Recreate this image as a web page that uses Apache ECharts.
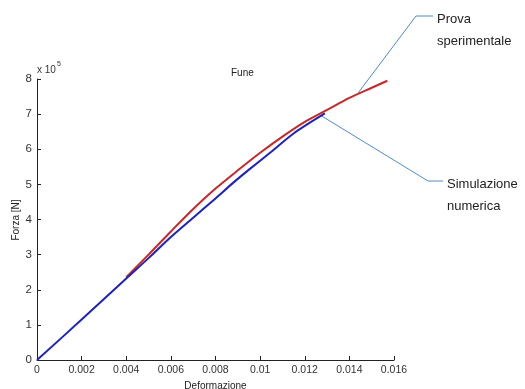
<!DOCTYPE html>
<html>
<head>
<meta charset="utf-8">
<script src="https://cdn.jsdelivr.net/npm/echarts@6/dist/echarts.min.js"></script>
<style>html,body{margin:0;padding:0;background:#fff}#c{width:525px;height:389px}</style>
</head>
<body>
<div id="c"></div>
<script>
// Forza values in units of 1e5 N
const provaStrain = [0.0040, 0.0050, 0.0060, 0.0070, 0.0080, 0.0090, 0.0100, 0.0110, 0.0120, 0.0130, 0.0140, 0.0150, 0.0157];
const provaForce  = [2.36, 3.00, 3.66, 4.30, 4.88, 5.40, 5.90, 6.36, 6.78, 7.12, 7.46, 7.75, 7.95];
const simStrain = [0, 0.002, 0.004, 0.005, 0.006, 0.007, 0.008, 0.0088, 0.0095, 0.0105, 0.0115, 0.0129];
const simForce  = [0, 1.15, 2.32, 2.90, 3.50, 4.05, 4.60, 5.05, 5.42, 5.93, 6.45, 7.02];
const xTicks = [0, 0.002, 0.004, 0.006, 0.008, 0.01, 0.012, 0.014, 0.016];
const yTicks = [0, 1, 2, 3, 4, 5, 6, 7, 8];
const yName = 'Forza [N]';
const labelProva = ['Prova', 'sperimentale'];
const labelSim = ['Simulazione', 'numerica'];
const provaAnchor = [0.0144, 7.61];
const simAnchor = [0.01275, 6.95];

const pair = (xs, ys) => xs.map((x, i) => [x, ys[i]]);
const chart = echarts.init(document.getElementById('c'));
const font = 'Liberation Sans, Arial, sans-serif';
chart.setOption({
  animation: false,
  backgroundColor: '#fff',
  title: {text: 'Fune', left: 226, top: 63, textStyle: {fontSize: 10, fontWeight: 'normal', color: '#222', fontFamily: font}},
  grid: {left: 37, top: 79, right: 131, bottom: 29, containLabel: false, outerBoundsMode: 'none'},
  xAxis: {
    type: 'value', min: 0, max: 0.016, interval: 0.002,
    name: 'Deformazione', nameLocation: 'middle', nameGap: 13,
    nameTextStyle: {fontSize: 10, color: '#222', fontFamily: font},
    axisLine: {lineStyle: {color: '#222', width: 1}},
    axisTick: {inside: true, length: 4, lineStyle: {color: '#222'}},
    axisLabel: {fontSize: 10.5, color: '#333', margin: 5, fontFamily: font, formatter: v => String(xTicks.find(t => Math.abs(t - v) < 1e-9) ?? v)},
    splitLine: {show: false}
  },
  yAxis: {
    type: 'value', min: 0, max: 8, interval: 1,
    axisLine: {show: true, lineStyle: {color: '#222', width: 1}},
    axisTick: {show: true, inside: true, length: 4, lineStyle: {color: '#222'}},
    axisLabel: {fontSize: 11.5, color: '#333', margin: 5, fontFamily: font, formatter: v => String(yTicks.find(t => t === v) ?? v)},
    splitLine: {show: false}
  },
  series: [
    {type: 'line', name: 'Prova sperimentale', data: pair(provaStrain, provaForce), smooth: 0.3, showSymbol: false,
     lineStyle: {color: '#c8282a', width: 2}, z: 3},
    {type: 'line', name: 'Simulazione numerica', data: pair(simStrain, simForce), smooth: 0.3, showSymbol: false,
     lineStyle: {color: '#1c22c0', width: 2}, z: 4}
  ]
});

const pA = chart.convertToPixel({gridIndex: 0}, provaAnchor);
const sA = chart.convertToPixel({gridIndex: 0}, simAnchor);
const calloutColor = '#4f8cc4';
chart.setOption({
  graphic: [
    {type: 'text', left: 37, top: 65, style: {text: 'x 10', fontSize: 10, fill: '#333', fontFamily: font}},
    {type: 'text', left: 57, top: 61, style: {text: '5', fontSize: 7, fill: '#333', fontFamily: font}},
    {type: 'text', x: 16, y: 220, rotation: Math.PI / 2,
     style: {text: yName, fontSize: 10, fill: '#222', fontFamily: font, align: 'center', verticalAlign: 'middle'}},
    {type: 'polyline', shape: {points: [pA, [416, 16], [433, 16]]}, style: {stroke: calloutColor, lineWidth: 1, fill: null}},
    {type: 'polyline', shape: {points: [sA, [428, 181], [443, 181]]}, style: {stroke: calloutColor, lineWidth: 1, fill: null}},
    {type: 'text', left: 437, top: 8, style: {text: labelProva.join('\n'), fontSize: 13, lineHeight: 22, fill: '#222', fontFamily: font}},
    {type: 'text', left: 447, top: 173, style: {text: labelSim.join('\n'), fontSize: 13, lineHeight: 22, fill: '#222', fontFamily: font}}
  ]
});
</script>
</body>
</html>
